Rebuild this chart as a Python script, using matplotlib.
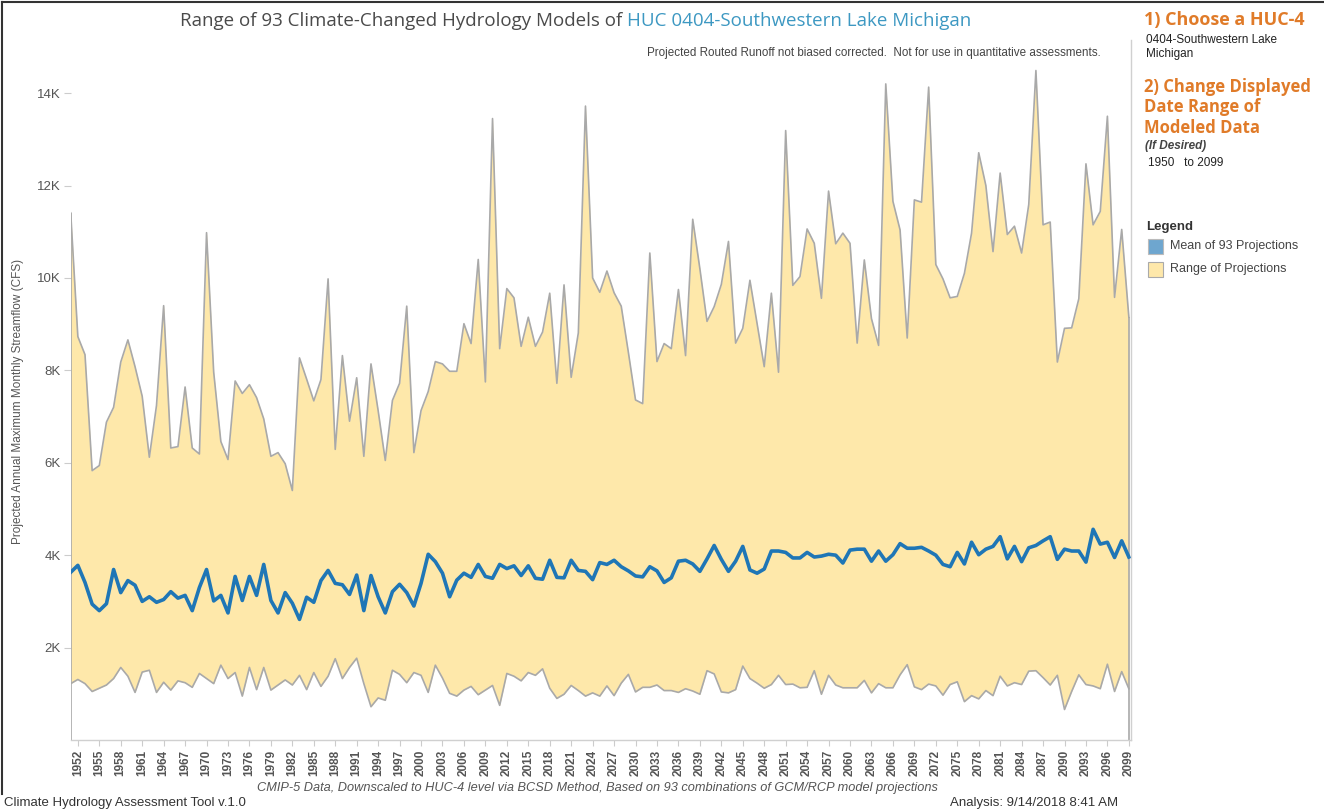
import numpy as np
import matplotlib.pyplot as plt
from matplotlib.lines import Line2D
from matplotlib.patches import Rectangle
from matplotlib.ticker import FuncFormatter

years = np.arange(1951, 2100)

upper = [11410, 8730, 8340, 5830, 5940, 6880, 7200, 8180, 8660, 8080,
         7440, 6120, 7240, 9400, 6320, 6350, 7640, 6320, 6190, 10980,
         7960, 6460, 6070, 7770, 7500, 7690, 7410, 6950, 6140, 6220,
         5980, 5400, 8270, 7810, 7340, 7800, 9980, 6290, 8320, 6900,
         7840, 6140, 8140, 7130, 6050, 7350, 7720, 9390, 6220, 7130,
         7540, 8190, 8140, 7980, 7980, 9010, 8580, 10400, 7750, 13450,
         8470, 9770, 9570, 8520, 9150, 8520, 8830, 9670, 7720, 9850,
         7850, 8810, 13720, 10000, 9690, 10150, 9680, 9390, 8390, 7360,
         7280, 10540, 8190, 8580, 8470, 9750, 8320, 11270, 10200, 9060,
         9380, 9860, 10790, 8590, 8910, 9950, 9010, 8080, 9670, 7960,
         13190, 9840, 10030, 11060, 10750, 9560, 11880, 10740, 10970, 10750,
         8590, 10390, 9120, 8540, 14200, 11660, 11040, 8700, 11690, 11640,
         14130, 10290, 9980, 9570, 9600, 10100, 10970, 12710, 12000, 10570,
         12270, 10940, 11120, 10540, 11590, 14490, 11150, 11210, 8180, 8910,
         8920, 9550, 12470, 11150, 11440, 13500, 9580, 11050, 9150]

mean = [3630, 3780, 3410, 2940, 2800, 2950, 3690, 3190, 3450, 3350,
        3000, 3100, 2980, 3040, 3210, 3070, 3130, 2800, 3300, 3690,
        3010, 3130, 2750, 3540, 3020, 3540, 3130, 3800, 3020, 2750,
        3190, 2960, 2610, 3090, 2980, 3450, 3670, 3390, 3360, 3150,
        3570, 2800, 3560, 3100, 2750, 3210, 3370, 3190, 2900, 3390,
        4020, 3860, 3610, 3100, 3460, 3610, 3520, 3800, 3540, 3500,
        3800, 3710, 3770, 3560, 3770, 3500, 3480, 3890, 3520, 3510,
        3890, 3670, 3650, 3470, 3840, 3800, 3890, 3750, 3660, 3550,
        3530, 3750, 3660, 3410, 3510, 3870, 3890, 3810, 3650, 3920,
        4210, 3910, 3650, 3870, 4190, 3680, 3610, 3700, 4090, 4090,
        4060, 3940, 3940, 4060, 3960, 3980, 4020, 4000, 3830, 4110,
        4130, 4130, 3870, 4090, 3870, 4010, 4250, 4150, 4150, 4170,
        4090, 4000, 3800, 3750, 4060, 3810, 4280, 4010, 4130, 4190,
        4400, 3920, 4190, 3860, 4160, 4210, 4310, 4400, 3910, 4130,
        4090, 4090, 3850, 4560, 4240, 4280, 3950, 4310, 3960]

lower = [1220, 1310, 1220, 1050, 1120, 1190, 1330, 1570, 1380, 1030,
         1470, 1510, 1030, 1250, 1080, 1280, 1240, 1140, 1440, 1330,
         1220, 1620, 1330, 1460, 950, 1570, 1090, 1570, 1080, 1190,
         1300, 1190, 1400, 1090, 1460, 1160, 1380, 1760, 1330, 1570,
         1770, 1220, 720, 910, 860, 1510, 1420, 1240, 1460, 1400,
         1030, 1620, 1340, 1010, 950, 1080, 1160, 980, 1080, 1180,
         750, 1440, 1380, 1280, 1460, 1400, 1540, 1120, 900, 990,
         1180, 1070, 950, 1020, 950, 1170, 960, 1230, 1420, 1040,
         1140, 1140, 1190, 1070, 1070, 1030, 1110, 1060, 990, 1500,
         1430, 1040, 1020, 1090, 1600, 1330, 1230, 1120, 1200, 1400,
         1200, 1210, 1130, 1140, 1500, 990, 1400, 1190, 1130, 1130,
         1130, 1290, 1020, 1220, 1130, 1130, 1410, 1630, 1150, 1090,
         1210, 1170, 970, 1200, 1260, 830, 960, 890, 1070, 960,
         1380, 1170, 1240, 1200, 1490, 1500, 1350, 1190, 1400, 660,
         1050, 1410, 1200, 1170, 1110, 1640, 1050, 1480, 1110]

tick_years = list(range(1952, 2100, 3))

W, H = 1324, 810
fig = plt.figure(figsize=(W / 100, H / 100), dpi=100)


def px(x, y):
    return x / W, 1 - y / H


ax = fig.add_axes([70.7 / W, 1 - 740 / H, (1131 - 70.7) / W, 700 / H])

ax.fill_between(years, lower, upper, color='#fee8aa', linewidth=0)
ax.plot(years, upper, color='#a9a9a9', lw=1.2)
ax.plot(years, lower, color='#a9a9a9', lw=1.2)
ax.vlines([years[0], years[-1]], 0, [upper[0], upper[-1]], color='#a9a9a9', lw=1.2)
ax.plot(years, mean, color='#1f76b6', lw=2.6, solid_joinstyle='round')

ax.set_xlim(1951, 2099.3)
ax.set_ylim(0, 15150)
ax.set_yticks([2000, 4000, 6000, 8000, 10000, 12000, 14000])
ax.yaxis.set_major_formatter(FuncFormatter(lambda v, p: f"{int(v / 1000)}K"))
ax.set_xticks(tick_years)
ax.set_xticklabels([str(y) for y in tick_years], rotation=90, fontsize=8.5,
                   color='#555555', fontweight='bold', family='Liberation Sans')
for lab in ax.get_yticklabels():
    lab.set_fontsize(9.5)
    lab.set_color('#555555')
    lab.set_family('Liberation Sans')
ax.tick_params(axis='y', length=5, color='#cccccc', pad=2)
ax.tick_params(axis='x', length=4, color='#cccccc', pad=3)
for side in ['top', 'left']:
    ax.spines[side].set_visible(False)
for side in ['bottom', 'right']:
    ax.spines[side].set_color('#d0d0d0')
    ax.spines[side].set_linewidth(1)

fig.text(*px(18, 401), 'Projected Annual Maximum Monthly Streamflow (CFS)', rotation=90,
         ha='center', va='center', fontsize=8.5, color='#555555', family='Liberation Sans')

# title in two colours
t1 = fig.text(*px(180, 21), 'Range of 93 Climate-Changed Hydrology Models of ', fontsize=13.5,
              color='#4a4a4a', family='Open Sans', va='center', ha='left')
fig.canvas.draw()
bb = t1.get_window_extent()
fig.text(bb.x1 / W, 1 - 21 / H, 'HUC 0404-Southwestern Lake Michigan', fontsize=13.5,
         color='#3d98c2', family='Open Sans', va='center', ha='left')

fig.text(*px(1101, 53), 'Projected Routed Runoff not biased corrected.  Not for use in quantitative assessments.',
         fontsize=8.4, color='#444444', ha='right', va='center', family='Liberation Sans')

# right panel
orange = '#e07b29'
fig.text(*px(1144, 20), '1) Choose a HUC-4', fontsize=13, fontweight='bold', color=orange,
         va='center', family='Open Sans')
fig.text(*px(1146, 40), '0404-Southwestern Lake', fontsize=8.5, color='#222222', va='center',
         family='Liberation Sans')
fig.text(*px(1146, 54), 'Michigan', fontsize=8.5, color='#222222', va='center', family='Liberation Sans')
for i, s in enumerate(['2) Change Displayed', 'Date Range of', 'Modeled Data']):
    fig.text(*px(1144, 87 + i * 20.5), s, fontsize=12, fontweight='bold', color=orange,
             va='center', family='Open Sans')
fig.text(*px(1145, 146), '(If Desired)', fontsize=8.5, fontweight='bold', style='italic',
         color='#444444', va='center', family='Liberation Sans')
fig.text(*px(1148, 163), '1950   to 2099', fontsize=8.5, color='#222222', va='center',
         family='Liberation Sans')

fig.text(*px(1146, 227), 'Legend', fontsize=9.5, fontweight='bold', color='#333333', va='center',
         family='Liberation Sans')
fig.add_artist(Rectangle(px(1148, 254), 15 / W, 15 / H, facecolor='#6ea6cf',
                         edgecolor='#bbbbbb', lw=0.8, transform=fig.transFigure))
fig.add_artist(Rectangle(px(1148, 277), 15 / W, 15 / H, facecolor='#fee8aa',
                         edgecolor='#aaaaaa', lw=0.8, transform=fig.transFigure))
fig.text(*px(1170, 246), 'Mean of 93 Projections', fontsize=9, color='#444444', va='center',
         family='Liberation Sans')
fig.text(*px(1170, 269), 'Range of Projections', fontsize=9, color='#444444', va='center',
         family='Liberation Sans')

# footer
narrow = ['Liberation Sans Narrow', 'Liberation Sans']
fig.text(*px(597, 788), 'CMIP-5 Data, Downscaled to HUC-4 level via BCSD Method, Based on 93 '
         'combinations of GCM/RCP model projections', fontsize=9.2, style='italic', color='#555555',
         ha='center', va='center', family=narrow)
fig.text(*px(4, 803), 'Climate Hydrology Assessment Tool v.1.0', fontsize=9.5, color='#333333',
         va='center', family=narrow)
fig.text(*px(950, 803), 'Analysis: 9/14/2018 8:41 AM', fontsize=9.5, color='#333333',
         va='center', family=narrow)

# dashboard frame
fig.add_artist(Line2D([0.0015, 0.0015], [0.02, 0.998], color='#333333', lw=1.5,
                      transform=fig.transFigure))
fig.add_artist(Line2D([0.0015, 1], [0.997, 0.997], color='#333333', lw=1.5,
                      transform=fig.transFigure))

fig.savefig('out.png', dpi=100)
